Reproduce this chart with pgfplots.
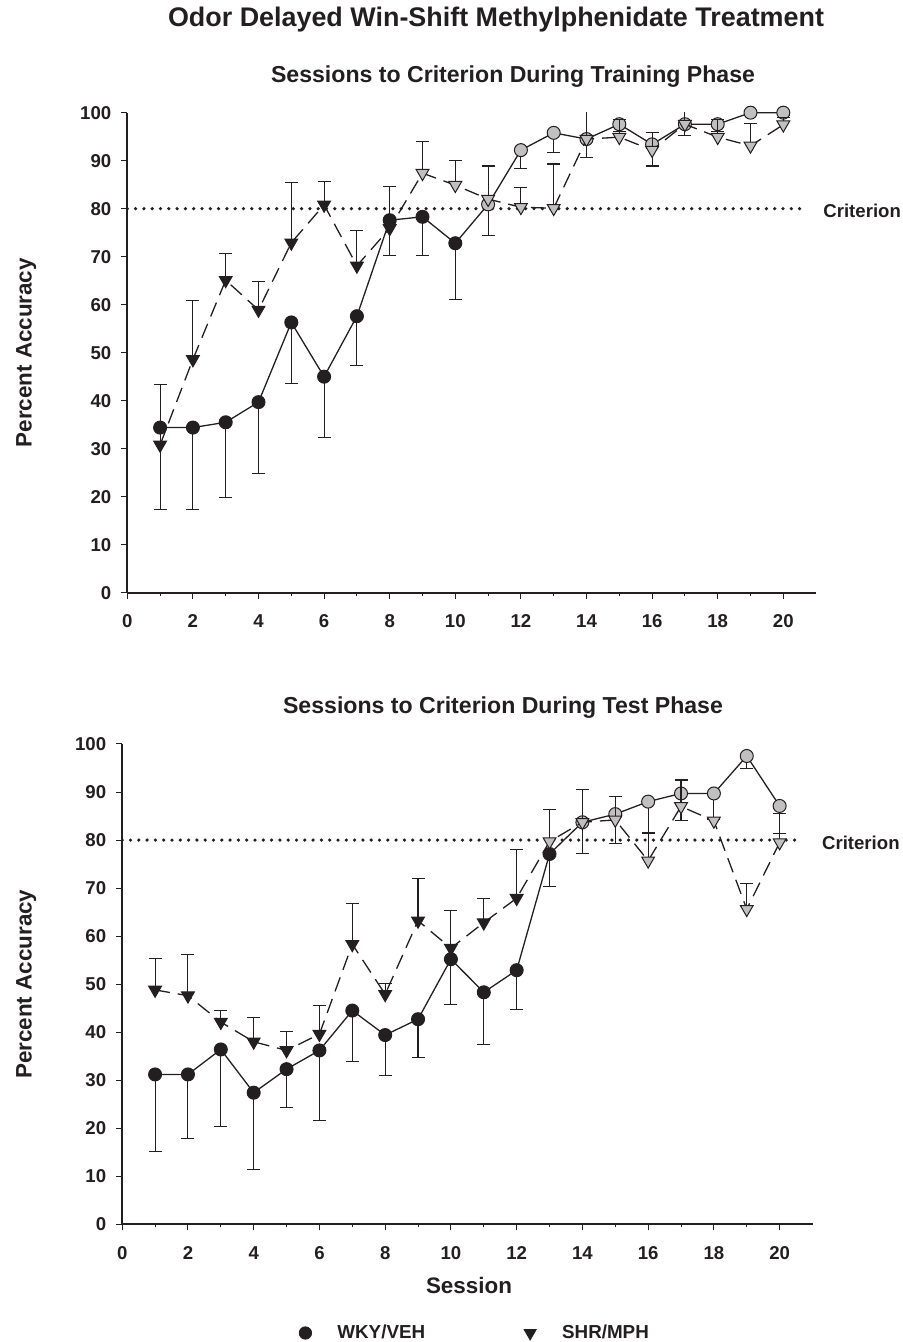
\documentclass[border=0pt]{standalone}
\usepackage{fontspec}
\setmainfont{Liberation Sans}
\usepackage{pgfplots}
\pgfplotsset{compat=1.18}
\usepackage{pgfplotstable}
\definecolor{ink}{RGB}{35,31,32}
\definecolor{lgray}{RGB}{192,192,192}

\pgfplotstableread{
x y e c
1 34.4 17.0 b
2 34.4 17.0 b
3 35.5 15.6 b
4 39.7 14.8 b
5 56.3 12.7 b
6 45.0 12.6 b
7 57.6 10.2 b
8 77.6 7.3 b
9 78.3 8.1 b
10 72.8 11.8 b
11 80.9 6.5 g
12 92.2 3.8 g
13 95.8 4.1 g
14 94.5 3.8 g
15 97.6 1.5 g
16 93.4 4.5 g
17 97.6 2.4 g
18 97.6 1.5 g
19 100.0 0.0 g
20 100.0 0.5 g
}\trainWKY

\pgfplotstableread{
x y e c
1 30.8 12.5 b
2 48.6 12.2 b
3 65.1 5.5 b
4 58.9 6.0 b
5 72.9 12.5 b
6 80.8 4.8 b
7 68.1 7.3 b
8 75.9 8.8 b
9 87.4 6.6 g
10 84.9 5.1 g
11 82.0 6.9 g
12 80.3 4.1 g
13 80.1 9.2 g
14 94.5 5.8 g
15 94.9 3.6 g
16 92.2 3.6 g
17 97.6 2.7 g
18 94.9 3.7 g
19 93.1 4.6 g
20 97.5 1.5 g
}\trainSHR

\pgfplotstableread{
x y e c
1 31.2 16.1 b
2 31.2 13.4 b
3 36.4 16.1 b
4 27.4 15.9 b
5 32.3 8.0 b
6 36.2 14.5 b
7 44.5 10.6 b
8 39.4 8.5 b
9 42.7 8.0 b
10 55.2 9.5 b
11 48.3 10.8 b
12 52.9 8.1 b
13 77.1 6.8 b
14 83.7 6.5 g
15 85.4 6.1 g
16 88.0 6.6 g
17 89.7 5.7 g
18 89.7 5.5 g
19 97.5 2.6 g
20 87.1 5.7 g
}\testWKY

\pgfplotstableread{
x y e c
1 48.8 6.5 b
2 47.6 8.5 b
3 42.1 2.5 b
4 38.0 5.1 b
5 36.2 3.9 b
6 39.6 5.9 b
7 58.3 8.4 b
8 47.9 2.3 b
9 63.2 8.8 b
10 57.5 7.8 b
11 62.8 5.1 b
12 67.9 10.2 b
13 79.7 6.7 g
14 83.7 6.9 g
15 84.2 4.8 g
16 75.7 5.9 g
17 87.0 5.5 g
18 84.0 0.5 g
19 65.6 5.3 g
20 79.5 6.1 g
}\testSHR

\pgfplotsset{
  chartax/.style={
    scale only axis, width=344.4pt, height=240pt,
    xmin=0, xmax=21, ymin=0, ymax=100,
    axis lines=left, axis line style={-, line width=1pt, ink},
    tick align=outside, major tick length=3pt, minor tick length=1.5pt,
    tick style={line width=0.5pt, ink},
    xtick={0,2,...,20}, minor xtick={1,3,...,19}, ytick={0,10,...,100},
    ticklabel style={font=\fontsize{9.3}{11}\selectfont\bfseries, text=ink},
    xticklabel style={yshift=-4.5pt},
    yticklabel style={xshift=-1.5pt},
    /pgf/number format/assume math mode=true,
    label style={font=\fontsize{11.2}{13}\selectfont\bfseries, text=ink},
    clip mode=individual,
  },
  crit/.style={ink, line width=1.8pt, line cap=round, dash pattern=on 0pt off 4.15pt},
  wky/.style={ink, line width=0.65pt, solid, mark=*, scatter, scatter src=explicit symbolic,
    scatter/classes={b={mark=*, solid, fill=ink, draw=ink, mark size=3.25pt, line width=0.5pt},
                     g={mark=*, solid, fill=lgray, draw=ink, mark size=3.25pt, line width=0.5pt}},
    error bars/.cd, y dir=minus, y explicit,
    error bar style={solid, line width=0.55pt, ink},
    error mark options={rotate=90, solid, mark size=3.25pt, line width=0.55pt, ink}},
  shr/.style={ink, line width=0.65pt, dash pattern=on 7.5pt off 4pt, mark=*, scatter, scatter src=explicit symbolic,
    scatter/classes={b={mark=triangle*, solid, rotate=180, fill=ink, draw=ink, mark size=3.7pt, line width=0.5pt},
                     g={mark=triangle*, solid, rotate=180, fill=lgray, draw=ink, mark size=3.7pt, line width=0.5pt}},
    error bars/.cd, y dir=plus, y explicit,
    error bar style={solid, line width=0.55pt, ink},
    error mark options={rotate=90, solid, mark size=3.25pt, line width=0.55pt, ink}},
}

\begin{document}
\begin{tikzpicture}
\path[use as bounding box] (0,0) rectangle (451pt,671pt);

\node[anchor=base, font=\fontsize{13.45}{15}\selectfont\bfseries, text=ink] at (248pt,657.65pt) {Odor Delayed Win-Shift Methylphenidate Treatment};
\node[anchor=base, font=\fontsize{11.55}{13}\selectfont\bfseries, text=ink] at (256.5pt,629.65pt) {Sessions to Criterion During Training Phase};
\node[anchor=base, font=\fontsize{11.55}{13}\selectfont\bfseries, text=ink] at (251.5pt,314pt) {Sessions to Criterion During Test Phase};

\begin{axis}[chartax, at={(63.65pt,374.65pt)}, anchor=south west,
  ylabel={Percent Accuracy},
  ylabel style={at={(axis description cs:-0.1388,0.5)}, anchor=base}]
  \addplot[crit] coordinates {(0,80) (20.65,80)};
  \addplot[wky] table[x=x, y=y, y error minus=e, meta=c] {\trainWKY};
  \addplot[shr] table[x=x, y=y, y error plus=e, meta=c] {\trainSHR};
\end{axis}
\node[anchor=base west, inner sep=0pt, font=\fontsize{9.3}{11}\selectfont\bfseries, text=ink] at (411.5pt,562.35pt) {Criterion};

\begin{axis}[chartax, at={(61.1pt,58.85pt)}, anchor=south west, width=345.15pt, height=240.15pt,
  ylabel={Percent Accuracy},
  ylabel style={at={(axis description cs:-0.1311,0.5)}, anchor=base},
  xlabel={Session},
  xlabel style={at={(axis description cs:0.5024,-0.1441)}, anchor=base},
  legend columns=2,
  legend image code/.code={\path[draw=none, fill=none] (-3.5pt,-3.5pt) rectangle (14pt,3.5pt); \draw[#1] plot coordinates {(0pt,0pt)};},
  legend style={draw=none, fill=none, inner sep=0pt, at={(axis description cs:0.2547,-0.2263)}, anchor=west,
    font=\fontsize{9.4}{11}\selectfont\bfseries, text=ink,
    /tikz/every even column/.append style={column sep=47pt}},
  legend entries={WKY/VEH, SHR/MPH}]
  \addlegendimage{mark=*, mark size=3.1pt, mark options={solid, fill=ink, draw=ink}}
  \addlegendimage{mark=triangle*, mark size=3.5pt, mark options={solid, rotate=180, fill=ink, draw=ink}}
  \addplot[crit] coordinates {(0,80) (20.65,80)};
  \addplot[wky] table[x=x, y=y, y error minus=e, meta=c] {\testWKY};
  \addplot[shr] table[x=x, y=y, y error plus=e, meta=c] {\testSHR};
\end{axis}
\node[anchor=base west, inner sep=0pt, font=\fontsize{9.3}{11}\selectfont\bfseries, text=ink] at (410.85pt,246pt) {Criterion};
\end{tikzpicture}
\end{document}
